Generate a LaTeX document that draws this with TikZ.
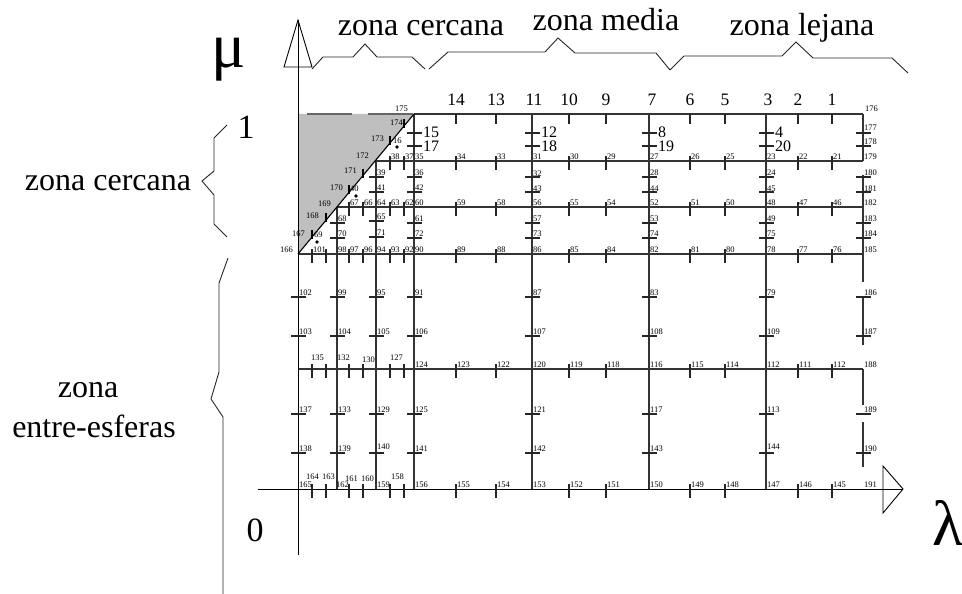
\documentclass[tikz,border=0pt]{standalone}
\usepackage{fontspec}
\setmainfont{Liberation Serif}
\begin{document}
\begin{tikzpicture}[x=1pt,y=-1pt,
  gridline/.style={line width=1.1pt, draw=black!80},
  axisline/.style={line width=0.9pt, draw=black},
  tk/.style={line width=1.1pt, draw=black!85},
  sl/.style={font=\fontsize{8.5}{8.5}\selectfont, inner sep=0pt, anchor=base west},
  ml/.style={font=\fontsize{16}{16}\selectfont, inner sep=0pt, anchor=base west},
  bl/.style={font=\fontsize{17.5}{17.5}\selectfont, inner sep=0pt, anchor=base},
  zl/.style={font=\fontsize{32}{32}\selectfont, inner sep=0pt, anchor=base},
  hl/.style={font=\fontsize{34}{34}\selectfont, inner sep=0pt, anchor=base},
  gl/.style={font=\fontsize{64}{64}\selectfont, inner sep=0pt, anchor=base},
  bracel/.style={line width=0.9pt, draw=black!85},
  dotp/.style={fill=black}
]
\useasboundingbox (0,0) rectangle (962,594);
% gray triangle
\fill[black!25] (298,114) -- (414,114) -- (298,254) -- cycle;
% grid
\draw[gridline] (414,114) -- (863,114);
\draw[gridline, draw=black!60] (307,114) -- (352,114) (368,114) -- (413,114);
\draw[gridline] (376,161) -- (863,161);
\draw[gridline] (337,207) -- (863,207);
\draw[gridline] (298,254) -- (863,254);
\draw[gridline] (298,369) -- (863,369);
\draw[gridline] (337,207) -- (337,489);
\draw[gridline] (376,161) -- (376,489);
\foreach \x in {414,532,649,766} \draw[gridline] (\x,114) -- (\x,489);
\draw[gridline] (863,114) -- (863,161) (863,175) -- (863,282) (863,297) -- (863,345)
  (863,369) -- (863,405) (863,422) -- (863,467);
\draw[gridline, draw=black] (298,254) -- (414,114);
% axes
\coordinate (muTop) at (298,20);
\coordinate (muBot) at (298,555);
\coordinate (laLeft) at (258,489);
\coordinate (laTip) at (903,489);
\draw[axisline] (muBot) -- (muTop);
\draw[axisline] (muTop) -- (312,67) -- (284,67) -- cycle;
\draw[axisline] (laLeft) -- (laTip);
\draw[axisline] (883,466) -- (laTip) -- (883,513) -- cycle;
% row ticks
\foreach \x in {456,496,569,606,690,725,798,832} {
  \draw[tk] (\x,114) -- (\x,124);
  \foreach \y in {161,207,254,369,489} \draw[tk] (\x,\y-5) -- (\x,\y+9);
}
\foreach \x in {312,326,349,363,390,404} {
  \foreach \y in {254,369,489} \draw[tk] (\x,\y-5) -- (\x,\y+9);
  \pgfmathsetmacro{\yd}{254-(\x-298)*140/116}
  \draw[tk, draw=black] (\x,\yd-7) -- (\x,\yd+2);
}
\foreach \x in {349,363,390,404} \draw[tk] (\x,202) -- (\x,216);
\foreach \x in {390,404} \draw[tk] (\x,156) -- (\x,170);
% column ticks
\foreach \y in {297,336,414,453} \draw[tk] (291,\y) -- (306,\y);
\foreach \y in {223,238,297,336,414,453} \draw[tk] (330,\y) -- (345,\y);
\foreach \y in {177,192,221,237,297,336,414,453} \draw[tk] (369,\y) -- (384,\y);
\foreach \x in {414,532,649,766,863}
  \foreach \y in {133,146,177,192,223,238,297,336,414,453} \draw[tk] (\x-7,\y) -- (\x+8,\y);
% dots
\fill[dotp] (397,147) circle[radius=1.8pt];
\fill[dotp] (356,196) circle[radius=1.8pt];
\fill[dotp] (317,242) circle[radius=1.8pt];
% top big numbers
\foreach \x/\lab in {456/14,496/13,534/11,569/10,606/9,652/7,690/6,725/5,768/3,798/2,832/1}
  \node[bl] (t\lab) at (\x,106) {\lab};
% medium labels
\foreach \x/\la/\lb in {414/15/17,532/12/18,649/8/19,766/4/20} {
  \node[ml] (m\la) at (\x+9,138) {\la};
  \node[ml] (m\lb) at (\x+9,151.5) {\lb};
}
% row labels
\foreach \x/\lab in {390/38,404/37,414/35,456/34,496/33,532/31,569/30,606/29,649/27,690/26,725/25,766/23,798/22,832/21,863/179}
  \node[sl] (n\lab) at (\x+1,159) {\lab};
\foreach \x/\lab in {349/67,363/66,376/64,390/63,404/62,414/60,456/59,496/58,532/56,569/55,606/54,649/52,690/51,725/50,766/48,798/47,832/46,863/182}
  \node[sl] (n\lab) at (\x+1,205) {\lab};
\foreach \x/\lab in {312/101,337/98,349/97,363/96,376/94,390/93,404/92,414/90,456/89,496/88,532/86,569/85,606/84,649/82,690/81,725/80,766/78,798/77,832/76,863/185}
  \node[sl] (n\lab) at (\x+1,252) {\lab};
\foreach \x/\lab in {414/124,456/123,496/122,532/120,569/119,606/118,649/116,690/115,725/114,766/112,798/111,832/112,863/188}
  \node[sl] (n\lab) at (\x+1,367) {\lab};
\foreach \x/\y/\lab in {311/360/135,337/360/132,362/362/130,390/360/127}
  \node[sl] (n\lab) at (\x,\y) {\lab};
\foreach \x/\lab in {414/156,456/155,496/154,532/153,569/152,606/151,649/150,690/149,725/148,766/147,798/146,832/145,863/191}
  \node[sl] (n\lab) at (\x+1,487) {\lab};
\foreach \x/\y/\lab in {299/487/165,306/479/164,322/479/163,336/487/162,345/481/161,361/481/160,377/487/159,391/479/158}
  \node[sl] (n\lab) at (\x,\y) {\lab};
% column labels
\foreach \y/\lab in {297/102,336/103,414/137,453/138} \node[sl] (n\lab) at (299,\y-2) {\lab};
\foreach \y/\lab in {223/68,238/70,297/99,336/104,414/133,453/139} \node[sl] (n\lab) at (338,\y-2) {\lab};
\foreach \y/\lab in {177/39,192/41,221/65,237/71,297/95,336/105,414/129,451/140} \node[sl] (n\lab) at (377,\y-2) {\lab};
\foreach \y/\lab in {177/36,192/42,223/61,238/72,297/91,336/106,414/125,453/141} \node[sl] (n\lab) at (415,\y-2) {\lab};
\foreach \y/\lab in {178/32,193/43,223/57,238/73,297/87,336/107,414/121,453/142} \node[sl] (n\lab) at (533,\y-2) {\lab};
\foreach \y/\lab in {177/28,193/44,223/53,238/74,297/83,336/108,414/117,453/143} \node[sl] (n\lab) at (650,\y-2) {\lab};
\foreach \y/\lab in {177/24,193/45,223/49,238/75,297/79,336/109,414/113,451/144} \node[sl] (n\lab) at (767,\y-2) {\lab};
\foreach \y/\lab in {133/177,146/178,177/180,193/181,223/183,238/184,297/186,336/187,414/189,453/190} \node[sl] (n\lab) at (864,\y-2) {\lab};
% diagonal labels
\foreach \x/\y/\lab in {395/111/175,390/125/174,371/142/173,393/143/16,356/158/172,344/173/171,330/190/170,350/191/40,318/206/169,306/218/168,292/236/167,314/237/69,280/252/166,865/111/176}
  \node[sl] (n\lab) at (\x,\y) {\lab};
% zone braces
\draw[bracel] (312,69) -- (323,57) -- (353,57) -- (365,44) -- (377,57) -- (412,57) -- (425,69);
\draw[bracel] (429,69) -- (448,52) -- (545,52) -- (558,38) -- (575,53) -- (656,53) -- (670,70);
\draw[bracel] (670,70) -- (684,56) -- (782,56) -- (796,42) -- (813,58) -- (892,58) -- (908,73);
\draw[bracel] (227,125) -- (214,138) -- (214,171) -- (202,181) -- (214,195) -- (214,224) -- (227,237);
\draw[bracel] (228,258) -- (219,283) -- (219,372) -- (211,399) -- (223,417) -- (223,594);
% zone texts
\node[zl] (zc) at (421,36) {zona cercana};
\node[zl] (zm) at (606,31) {zona media};
\node[zl] (zlj) at (802,36) {zona lejana};
\node[zl] (zcl) at (108,190) {zona cercana};
\node[zl] (ze1) at (88,397) {zona};
\node[zl] (ze2) at (94,437) {entre-esferas};
\node[hl] (one) at (246,139) {1};
\node[hl] (zero) at (255,541) {0};
\node[gl] (mu) at (229,68) {μ};
\node[gl, anchor=base west] (la) at (932,545) {λ};
\end{tikzpicture}
\end{document}
